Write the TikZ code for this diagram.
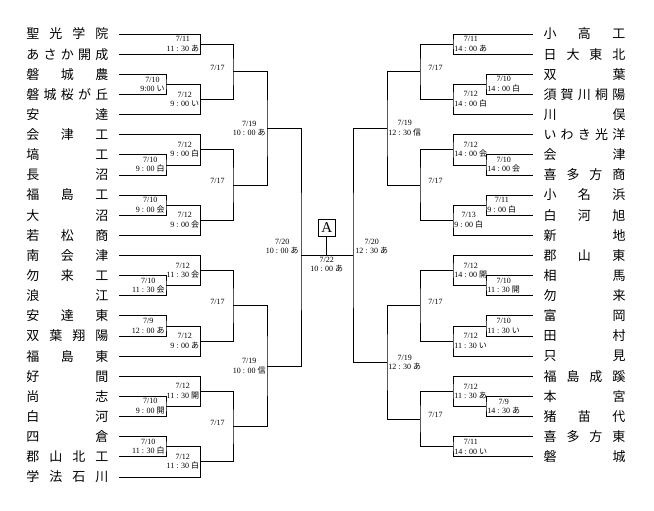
\documentclass[tikz,border=0pt]{standalone}
\usepackage{fontspec}
\setmainfont{Liberation Serif}
\newfontfamily\cjk{Noto Sans CJK JP}
\usetikzlibrary{positioning}
\newcommand\spread[1]{\makebox[82pt][s]{#1}}

\begin{document}
\begin{tikzpicture}[x=1pt, y=-1pt, line width=0.7pt,
  team/.style = {font=\cjk\fontsize{13}{13}\selectfont, inner sep=0pt, outer xsep=10.5pt},
  lbl/.style = {font=\fontsize{8}{9.5}\selectfont, align=center, inner sep=1pt},
  rnd/.style = {font=\fontsize{8}{9.5}\selectfont, inner sep=0pt},
  abox/.style = {draw, minimum size=17pt, inner sep=0pt, font=\fontsize{15}{15}\selectfont}
  ]
  \useasboundingbox (0,0) rectangle (654,511);

  %left teams
  \node[team, anchor=west] (l0) at (16,34.00) {\spread{聖 光 学 院}};
  \node[team, anchor=west] (l1) at (16,54.13) {\spread{あ さ か 開 成}};
  \node[team, anchor=west] (l2) at (16,74.26) {\spread{磐 城 農}};
  \node[team, anchor=west] (l3) at (16,94.39) {\spread{磐 城 桜 が 丘}};
  \node[team, anchor=west] (l4) at (16,114.52) {\spread{安 達}};
  \node[team, anchor=west] (l5) at (16,134.65) {\spread{会 津 工}};
  \node[team, anchor=west] (l6) at (16,154.78) {\spread{塙 工}};
  \node[team, anchor=west] (l7) at (16,174.91) {\spread{長 沼}};
  \node[team, anchor=west] (l8) at (16,195.04) {\spread{福 島 工}};
  \node[team, anchor=west] (l9) at (16,215.17) {\spread{大 沼}};
  \node[team, anchor=west] (l10) at (16,235.30) {\spread{若 松 商}};
  \node[team, anchor=west] (l11) at (16,255.43) {\spread{南 会 津}};
  \node[team, anchor=west] (l12) at (16,275.56) {\spread{勿 来 工}};
  \node[team, anchor=west] (l13) at (16,295.69) {\spread{浪 江}};
  \node[team, anchor=west] (l14) at (16,315.82) {\spread{安 達 東}};
  \node[team, anchor=west] (l15) at (16,335.95) {\spread{双 葉 翔 陽}};
  \node[team, anchor=west] (l16) at (16,356.08) {\spread{福 島 東}};
  \node[team, anchor=west] (l17) at (16,376.21) {\spread{好 間}};
  \node[team, anchor=west] (l18) at (16,396.34) {\spread{尚 志}};
  \node[team, anchor=west] (l19) at (16,416.47) {\spread{白 河}};
  \node[team, anchor=west] (l20) at (16,436.60) {\spread{四 倉}};
  \node[team, anchor=west] (l21) at (16,456.73) {\spread{郡 山 北 工}};
  \node[team, anchor=west] (l22) at (16,476.86) {\spread{学 法 石 川}};

  %right teams
  \node[team, anchor=east] (r0) at (636,34.00) {\spread{小 高 工}};
  \node[team, anchor=east] (r1) at (636,54.13) {\spread{日 大 東 北}};
  \node[team, anchor=east] (r2) at (636,74.26) {\spread{双 葉}};
  \node[team, anchor=east] (r3) at (636,94.39) {\spread{須 賀 川 桐 陽}};
  \node[team, anchor=east] (r4) at (636,114.52) {\spread{川 俣}};
  \node[team, anchor=east] (r5) at (636,134.65) {\spread{い わ き 光 洋}};
  \node[team, anchor=east] (r6) at (636,154.78) {\spread{会 津}};
  \node[team, anchor=east] (r7) at (636,174.91) {\spread{喜 多 方 商}};
  \node[team, anchor=east] (r8) at (636,195.04) {\spread{小 名 浜}};
  \node[team, anchor=east] (r9) at (636,215.17) {\spread{白 河 旭}};
  \node[team, anchor=east] (r10) at (636,235.30) {\spread{新 地}};
  \node[team, anchor=east] (r11) at (636,255.43) {\spread{郡 山 東}};
  \node[team, anchor=east] (r12) at (636,275.56) {\spread{相 馬}};
  \node[team, anchor=east] (r13) at (636,295.69) {\spread{勿 来}};
  \node[team, anchor=east] (r14) at (636,315.82) {\spread{富 岡}};
  \node[team, anchor=east] (r15) at (636,335.95) {\spread{田 村}};
  \node[team, anchor=east] (r16) at (636,356.08) {\spread{只 見}};
  \node[team, anchor=east] (r17) at (636,376.21) {\spread{福 島 成 蹊}};
  \node[team, anchor=east] (r18) at (636,396.34) {\spread{本 宮}};
  \node[team, anchor=east] (r19) at (636,416.47) {\spread{猪 苗 代}};
  \node[team, anchor=east] (r20) at (636,436.60) {\spread{喜 多 方 東}};
  \node[team, anchor=east] (r21) at (636,456.73) {\spread{磐 城}};

  %left bracket
  \coordinate (a1) at (200.5,44.07);
  \coordinate (p1) at (166,84.33);
  \coordinate (a2) at (200.5,99.42);
  \coordinate (b1) at (233,71.74);
  \coordinate (p2) at (166,164.85);
  \coordinate (a3) at (200.5,149.75);
  \coordinate (p3) at (166,205.11);
  \coordinate (a4) at (200.5,220.20);
  \coordinate (b2) at (233,184.98);
  \coordinate (c1) at (267,128.36);
  \coordinate (p4) at (166,285.63);
  \coordinate (a5) at (200.5,270.53);
  \coordinate (p5) at (166,325.89);
  \coordinate (a6) at (200.5,340.98);
  \coordinate (b3) at (233,305.76);
  \coordinate (p6) at (166,406.41);
  \coordinate (a7) at (200.5,391.31);
  \coordinate (p7) at (166,446.67);
  \coordinate (a8) at (200.5,461.76);
  \coordinate (b4) at (233,426.54);
  \coordinate (c2) at (267,366.15);
  \coordinate (d1) at (301,255.43);

  \draw (l0.east) -| (a1) |- (l1.east);
  \draw (l2.east) -| (p1) |- (l3.east);
  \draw (p1) -| (a2) |- (l4.east);
  \draw (a1) -| (b1) |- (a2);
  \draw (l6.east) -| (p2) |- (l7.east);
  \draw (l5.east) -| (a3) |- (p2);
  \draw (l8.east) -| (p3) |- (l9.east);
  \draw (p3) -| (a4) |- (l10.east);
  \draw (a3) -| (b2) |- (a4);
  \draw (b1) -| (c1) |- (b2);
  \draw (l12.east) -| (p4) |- (l13.east);
  \draw (l11.east) -| (a5) |- (p4);
  \draw (l14.east) -| (p5) |- (l15.east);
  \draw (p5) -| (a6) |- (l16.east);
  \draw (a5) -| (b3) |- (a6);
  \draw (l18.east) -| (p6) |- (l19.east);
  \draw (l17.east) -| (a7) |- (p6);
  \draw (l20.east) -| (p7) |- (l21.east);
  \draw (p7) -| (a8) |- (l22.east);
  \draw (a7) -| (b4) |- (a8);
  \draw (b3) -| (c2) |- (b4);
  \draw (c1) -| (d1) |- (c2);

  \node[lbl, left=0pt of a1] (ta1) {7/11\\11 : 30 {\cjk あ}};
  \node[lbl, left=0pt of p1] (tp1) {7/10\\9:00 {\cjk い}};
  \node[lbl, left=0pt of a2] (ta2) {7/12\\9 : 00 {\cjk い}};
  \node[rnd, left=8pt of b1, yshift=4pt] (tb1) {7/17};
  \node[lbl, left=0pt of p2] (tp2) {7/10\\9 : 00 {\cjk 白}};
  \node[lbl, left=0pt of a3] (ta3) {7/12\\9 : 00 {\cjk 白}};
  \node[lbl, left=0pt of p3] (tp3) {7/10\\9 : 00 {\cjk 会}};
  \node[lbl, left=0pt of a4] (ta4) {7/12\\9 : 00 {\cjk 会}};
  \node[rnd, left=8pt of b2, yshift=4pt] (tb2) {7/17};
  \node[lbl, left=0pt of c1] (tc1) {7/19\\10 : 00 {\cjk あ}};
  \node[lbl, left=0pt of p4] (tp4) {7/10\\11 : 30 {\cjk 会}};
  \node[lbl, left=0pt of a5] (ta5) {7/12\\11 : 30 {\cjk 会}};
  \node[lbl, left=0pt of p5] (tp5) {7/9\\12 : 00 {\cjk あ}};
  \node[lbl, left=0pt of a6] (ta6) {7/12\\9 : 00 {\cjk あ}};
  \node[rnd, left=8pt of b3, yshift=4pt] (tb3) {7/17};
  \node[lbl, left=0pt of p6] (tp6) {7/10\\9 : 00 {\cjk 開}};
  \node[lbl, left=0pt of a7] (ta7) {7/12\\11 : 30 {\cjk 開}};
  \node[lbl, left=0pt of p7] (tp7) {7/10\\11 : 30 {\cjk 白}};
  \node[lbl, left=0pt of a8] (ta8) {7/12\\11 : 30 {\cjk 白}};
  \node[rnd, left=8pt of b4, yshift=4pt] (tb4) {7/17};
  \node[lbl, left=0pt of c2] (tc2) {7/19\\10 : 00 {\cjk 信}};
  \node[lbl, above left=0pt and 1pt of d1] (td1) {7/20\\10 : 00 {\cjk あ}};

  %right bracket
  \coordinate (e1) at (453,44.07);
  \coordinate (q1) at (486,84.33);
  \coordinate (e2) at (453,99.42);
  \coordinate (f1) at (420,71.74);
  \coordinate (q2) at (486,164.85);
  \coordinate (e3) at (453,149.75);
  \coordinate (q3) at (486,205.11);
  \coordinate (e4) at (453,220.20);
  \coordinate (f2) at (420,184.98);
  \coordinate (g1) at (387,128.36);
  \coordinate (q4) at (486,285.63);
  \coordinate (e5) at (453,270.53);
  \coordinate (q5) at (486,325.89);
  \coordinate (e6) at (453,340.98);
  \coordinate (f3) at (420,305.76);
  \coordinate (q6) at (486,406.41);
  \coordinate (e7) at (453,391.31);
  \coordinate (e8) at (453,446.67);
  \coordinate (f4) at (420,418.99);
  \coordinate (g2) at (387,362.38);
  \coordinate (h1) at (353,255.43);

  \draw (r0.west) -| (e1) |- (r1.west);
  \draw (r2.west) -| (q1) |- (r3.west);
  \draw (q1) -| (e2) |- (r4.west);
  \draw (e1) -| (f1) |- (e2);
  \draw (r6.west) -| (q2) |- (r7.west);
  \draw (r5.west) -| (e3) |- (q2);
  \draw (r8.west) -| (q3) |- (r9.west);
  \draw (q3) -| (e4) |- (r10.west);
  \draw (e3) -| (f2) |- (e4);
  \draw (f1) -| (g1) |- (f2);
  \draw (r12.west) -| (q4) |- (r13.west);
  \draw (r11.west) -| (e5) |- (q4);
  \draw (r14.west) -| (q5) |- (r15.west);
  \draw (q5) -| (e6) |- (r16.west);
  \draw (e5) -| (f3) |- (e6);
  \draw (r18.west) -| (q6) |- (r19.west);
  \draw (r17.west) -| (e7) |- (q6);
  \draw (r20.west) -| (e8) |- (r21.west);
  \draw (e7) -| (f4) |- (e8);
  \draw (f3) -| (g2) |- (f4);
  \draw (g1) -| (h1) |- (g2);

  \node[lbl, right=0pt of e1] (te1) {7/11\\14 : 00 {\cjk あ}};
  \node[lbl, right=0pt of q1] (tq1) {7/10\\14 : 00 {\cjk 白}};
  \node[lbl, right=0pt of e2] (te2) {7/12\\14 : 00 {\cjk 白}};
  \node[rnd, right=8pt of f1, yshift=4pt] (tf1) {7/17};
  \node[lbl, right=0pt of q2] (tq2) {7/10\\14 : 00 {\cjk 会}};
  \node[lbl, right=0pt of e3] (te3) {7/12\\14 : 00 {\cjk 会}};
  \node[lbl, right=0pt of q3] (tq3) {7/11\\9 : 00 {\cjk 白}};
  \node[lbl, right=0pt of e4] (te4) {7/13\\9 : 00 {\cjk 白}};
  \node[rnd, right=8pt of f2, yshift=4pt] (tf2) {7/17};
  \node[lbl, right=0pt of g1] (tg1) {7/19\\12 : 30 {\cjk 信}};
  \node[lbl, right=0pt of q4] (tq4) {7/10\\11 : 30 {\cjk 開}};
  \node[lbl, right=0pt of e5] (te5) {7/12\\14 : 00 {\cjk 開}};
  \node[lbl, right=0pt of q5] (tq5) {7/10\\11 : 30 {\cjk い}};
  \node[lbl, right=0pt of e6] (te6) {7/12\\11 : 30 {\cjk い}};
  \node[rnd, right=8pt of f3, yshift=4pt] (tf3) {7/17};
  \node[lbl, right=0pt of q6] (tq6) {7/9\\14 : 30 {\cjk あ}};
  \node[lbl, right=0pt of e7] (te7) {7/12\\11 : 30 {\cjk あ}};
  \node[lbl, right=0pt of e8] (te8) {7/11\\14 : 00 {\cjk い}};
  \node[rnd, right=8pt of f4, yshift=4pt] (tf4) {7/17};
  \node[lbl, right=0pt of g2] (tg2) {7/19\\12 : 30 {\cjk あ}};
  \node[lbl, above right=0pt and 1pt of h1] (th1) {7/20\\12 : 30 {\cjk あ}};

  %final
  \node[abox] (A) at (326.7,227.7) {A};
  \coordinate (fin) at (326.7,255.43);
  \draw (d1) -- (h1);
  \draw (A) -- (fin);
  \node[lbl, below=0pt of fin] (tfin) {7/22\\10 : 00 {\cjk あ}};
\end{tikzpicture}
\end{document}
